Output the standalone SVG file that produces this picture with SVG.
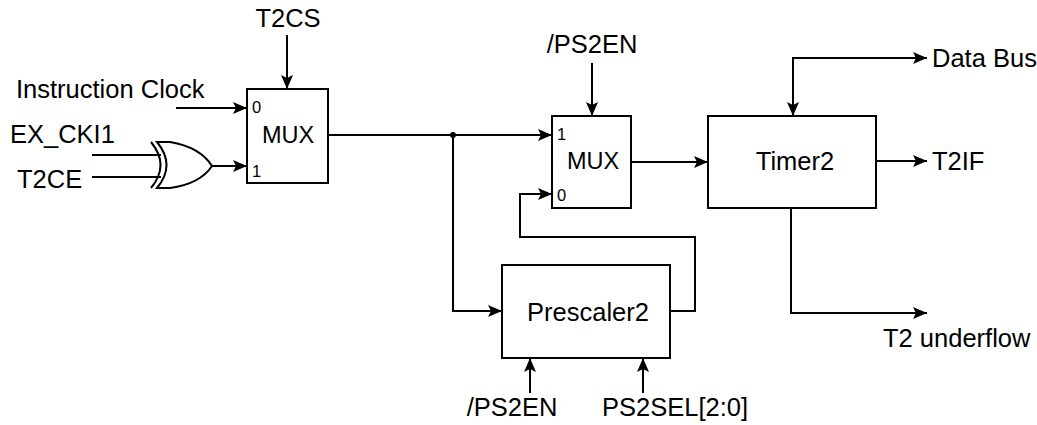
<svg xmlns="http://www.w3.org/2000/svg" width="1037" height="425" viewBox="0 0 1037 425">
<defs>
<style>
.t{font-family:"Liberation Sans",Arial,sans-serif;font-size:25.5px;fill:#000}
.m{font-family:"Liberation Sans",Arial,sans-serif;font-size:23.5px;fill:#000}
.s{font-family:"Liberation Sans",Arial,sans-serif;font-size:16.5px;fill:#000}
.box{fill:#fff;stroke:#000;stroke-width:2}
.w{fill:none;stroke:#000;stroke-width:2}
</style>
<marker id="ah" viewBox="0 0 14 12" refX="14" refY="6" markerWidth="14" markerHeight="12" markerUnits="userSpaceOnUse" orient="auto-start-reverse">
<path d="M0,0 L14,6 L0,12 L3,6 Z" fill="#000"/>
</marker>
</defs>
<rect width="1037" height="425" fill="#fff"/>

<g id="connectors">
<line class="w" x1="287" y1="35" x2="287" y2="89" marker-end="url(#ah)"/>
<line class="w" x1="176" y1="108" x2="247" y2="108" marker-end="url(#ah)"/>
<line class="w" x1="92" y1="155" x2="161" y2="155"/>
<line class="w" x1="92" y1="177" x2="161" y2="177"/>
<line class="w" x1="212" y1="166" x2="247" y2="166" marker-end="url(#ah)"/>
<line class="w" x1="328" y1="135" x2="552" y2="135" marker-end="url(#ah)"/>
<circle cx="453" cy="135" r="3" fill="#000"/>
<polyline class="w" points="453,135 453,311 502,311" marker-end="url(#ah)"/>
<line class="w" x1="592" y1="63" x2="592" y2="116" marker-end="url(#ah)"/>
<polyline class="w" points="670,311 695,311 695,237 520,237 520,194 552,194" marker-end="url(#ah)"/>
<line class="w" x1="631" y1="162" x2="708" y2="162" marker-end="url(#ah)"/>
<polyline class="w" points="793,116 793,58 927,58" marker-start="url(#ah)" marker-end="url(#ah)"/>
<line class="w" x1="876" y1="161" x2="927" y2="161" marker-end="url(#ah)"/>
<polyline class="w" points="791,208 791,313 927,313" marker-end="url(#ah)"/>
<line class="w" x1="530" y1="393" x2="530" y2="358" marker-end="url(#ah)"/>
<line class="w" x1="643" y1="393" x2="643" y2="358" marker-end="url(#ah)"/>
</g>

<g id="xor">
<path d="M151,142 Q170,165 151,188" class="w"/>
<path d="M157,142 L170,142 Q200,147 212,166 Q200,184 170,188 L157,188 Q176,165 157,142 Z" fill="#fff" stroke="#000" stroke-width="2"/>
</g>

<g id="mux1">
<rect class="box" x="247" y="89" width="81" height="94"/>
<text class="m" x="288" y="143" text-anchor="middle">MUX</text>
<text class="s" x="252" y="113">0</text>
<text class="s" x="252" y="177">1</text>
</g>

<g id="mux2">
<rect class="box" x="552" y="116" width="79" height="92"/>
<text class="m" x="593" y="169" text-anchor="middle">MUX</text>
<text class="s" x="557" y="140">1</text>
<text class="s" x="557" y="201">0</text>
</g>

<g id="timer2">
<rect class="box" x="708" y="116" width="168" height="92"/>
<text class="t" x="795" y="170" text-anchor="middle">Timer2</text>
</g>

<g id="prescaler2">
<rect class="box" x="502" y="265" width="168" height="93"/>
<text class="t" x="588" y="321" text-anchor="middle">Prescaler2</text>
</g>

<g id="labels">
<text class="t" x="288" y="27" text-anchor="middle">T2CS</text>
<text class="t" x="16" y="98">Instruction Clock</text>
<text class="t" x="10" y="143">EX_CKI1</text>
<text class="t" x="17" y="188">T2CE</text>
<text class="t" x="592" y="53" text-anchor="middle">/PS2EN</text>
<text class="t" x="932" y="67">Data Bus</text>
<text class="t" x="932" y="170">T2IF</text>
<text class="t" x="883" y="347">T2 underflow</text>
<text class="t" x="512" y="416" text-anchor="middle">/PS2EN</text>
<text class="t" x="675" y="416" text-anchor="middle">PS2SEL[2:0]</text>
</g>
</svg>
